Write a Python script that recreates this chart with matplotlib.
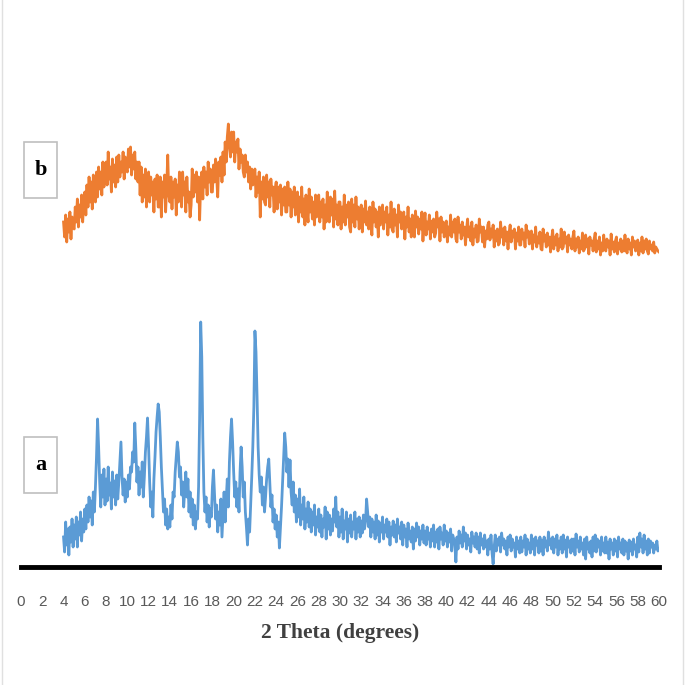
import matplotlib
matplotlib.use("Agg")
import matplotlib.pyplot as plt
from matplotlib.patches import Rectangle
from matplotlib.lines import Line2D
import numpy as np

# 2 theta grid, 4 to 60 degrees in 0.1 steps
two_theta = np.round(np.arange(4.0, 60.0001, 0.1), 1)

# sample a (blue), intensity, one row per degree
intensity_a = [
    30, 15, 45, 22, 38, 12, 40, 25, 48, 20,      # 4
    42, 28, 50, 20, 45, 32, 55, 26, 48, 35,      # 5
    58, 38, 62, 45, 70, 50, 66, 42, 75, 55,      # 6
    80, 110, 148, 120, 85, 60, 92, 70, 98, 62,   # 7
    88, 66, 100, 72, 84, 58, 95, 70, 86, 62,     # 8
    92, 68, 85, 105, 125, 90, 72, 88, 65, 85,    # 9
    70, 92, 78, 100, 95, 115, 105, 144, 118, 85, # 10
    100, 72, 95, 80, 105, 70, 90, 115, 130, 149, # 11
    120, 85, 60, 75, 50, 88, 110, 135, 150, 163, # 12
    155, 130, 100, 78, 55, 68, 42, 58, 38, 50,   # 13
    40, 62, 48, 75, 70, 95, 110, 125, 115, 90,   # 14
    100, 72, 85, 60, 78, 95, 70, 88, 55, 75,     # 15
    50, 68, 42, 62, 38, 55, 48, 80, 150, 245,    # 16
    210, 130, 75, 55, 70, 45, 62, 40, 58, 50,    # 17
    80, 97, 72, 48, 62, 35, 55, 42, 68, 30,      # 18
    52, 75, 45, 68, 88, 60, 105, 130, 148, 125,  # 19
    95, 70, 85, 60, 78, 55, 95, 120, 100, 70,    # 20
    85, 55, 40, 22, 48, 35, 62, 90, 120, 160,    # 21
    236, 215, 170, 120, 92, 75, 90, 62, 80, 55,  # 22
    70, 88, 100, 108, 85, 60, 72, 45, 58, 38,    # 23
    52, 30, 45, 19, 40, 60, 85, 110, 134, 120,   # 24
    95, 108, 80, 107, 75, 62, 85, 55, 72, 45,    # 25
    68, 50, 78, 42, 62, 48, 70, 38, 58, 45,      # 26
    65, 40, 58, 35, 55, 42, 62, 32, 50, 40,      # 27
    58, 35, 52, 30, 48, 40, 60, 28, 55, 38,      # 28
    52, 32, 48, 36, 58, 45, 70, 40, 55, 30,      # 29
    50, 35, 58, 28, 46, 38, 55, 25, 48, 34,      # 30
    52, 30, 45, 38, 55, 28, 48, 35, 50, 30,      # 31
    46, 34, 52, 38, 45, 68, 55, 40, 50, 30,      # 32
    48, 35, 45, 28, 52, 32, 46, 25, 44, 35,      # 33
    50, 28, 42, 35, 48, 30, 45, 22, 40, 32,      # 34
    46, 30, 42, 25, 48, 34, 40, 28, 45, 22,      # 35
    42, 30, 38, 20, 44, 28, 36, 25, 40, 18,      # 36
    38, 26, 44, 30, 40, 22, 36, 28, 42, 24,      # 37
    36, 22, 40, 28, 34, 20, 38, 26, 42, 20,      # 38
    35, 25, 38, 18, 40, 28, 34, 22, 42, 26,      # 39
    36, 20, 34, 25, 38, 16, 32, 28, 22, 5,       # 40
    30, 18, 36, 24, 32, 20, 40, 26, 34, 18,      # 41
    32, 22, 28, 15, 35, 24, 30, 20, 34, 18,      # 42
    30, 14, 34, 22, 28, 18, 32, 20, 26, 12,      # 43
    28, 18, 32, 14, 3, 20, 32, 16, 28, 22,       # 44
    30, 15, 34, 22, 28, 18, 26, 12, 30, 20,      # 45
    32, 16, 28, 20, 24, 10, 30, 18, 26, 14,      # 46
    30, 15, 26, 20, 32, 12, 28, 18, 24, 14,      # 47
    32, 18, 28, 12, 30, 22, 26, 14, 30, 16,      # 48
    27, 12, 30, 20, 26, 16, 35, 22, 28, 18,      # 49
    30, 14, 28, 20, 32, 12, 26, 18, 30, 14,      # 50
    32, 18, 27, 10, 30, 20, 26, 14, 28, 16,      # 51
    28, 12, 33, 20, 26, 15, 30, 18, 24, 12,      # 52
    28, 8, 30, 18, 24, 14, 26, 10, 30, 16,       # 53
    32, 15, 28, 20, 26, 12, 30, 16, 24, 14,      # 54
    30, 14, 25, 8, 28, 18, 24, 12, 28, 16,       # 55
    26, 10, 30, 18, 24, 14, 28, 12, 26, 16,      # 56
    24, 8, 27, 16, 25, 12, 28, 18, 22, 10,       # 57
    30, 15, 34, 20, 28, 14, 32, 18, 26, 12,      # 58
    28, 14, 26, 20, 24, 14, 22, 18, 26, 16,      # 59
    18,                                          # 60
]

# sample b (orange), intensity already includes its vertical offset
intensity_b = [
    345, 330, 352, 325, 348, 335, 355, 328, 350, 340,  # 4
    338, 360, 345, 368, 340, 362, 350, 372, 345, 365,  # 5
    375, 352, 382, 360, 390, 365, 385, 358, 392, 370,  # 6
    365, 395, 370, 400, 378, 395, 372, 405, 380, 398,  # 7
    405, 382, 415, 388, 400, 375, 408, 385, 402, 380,  # 8
    410, 385, 412, 390, 405, 395, 415, 388, 410, 398,  # 9
    395, 418, 400, 420, 392, 412, 398, 415, 388, 405,  # 10
    385, 405, 372, 400, 365, 392, 370, 398, 360, 390,  # 11
    395, 365, 390, 372, 385, 355, 388, 368, 392, 360,  # 12
    360, 390, 350, 385, 370, 392, 355, 380, 412, 372,  # 13
    365, 390, 358, 385, 370, 388, 352, 382, 365, 395,  # 14
    388, 360, 395, 372, 385, 355, 390, 365, 375, 350,  # 15
    362, 398, 370, 392, 375, 395, 365, 390, 347, 385,  # 16
    395, 368, 400, 380, 395, 372, 405, 385, 398, 375,  # 17
    375, 402, 385, 408, 390, 370, 405, 392, 410, 385,  # 18
    415, 392, 425, 405, 430, 443, 420, 410, 435, 415,  # 19
    435, 405, 425, 415, 428, 398, 418, 405, 412, 395,  # 20
    390, 412, 395, 405, 385, 400, 378, 398, 382, 392,  # 21
    398, 370, 390, 375, 395, 350, 385, 368, 390, 365,  # 22
    362, 392, 370, 385, 360, 388, 372, 380, 355, 378,  # 23
    385, 358, 380, 365, 382, 352, 378, 362, 380, 355,  # 24
    355, 385, 362, 378, 350, 375, 360, 380, 352, 372,  # 25
    375, 345, 370, 355, 380, 350, 368, 342, 372, 355,  # 26
    345, 378, 355, 370, 348, 365, 342, 372, 350, 368,  # 27
    372, 345, 365, 350, 368, 338, 362, 345, 375, 350,  # 28
    345, 370, 352, 368, 340, 376, 348, 362, 342, 365,  # 29
    365, 338, 360, 345, 372, 342, 362, 350, 365, 340,  # 30
    335, 368, 345, 362, 340, 370, 348, 360, 338, 355,  # 31
    362, 335, 358, 345, 366, 342, 355, 338, 360, 345,  # 32
    332, 365, 345, 358, 340, 355, 330, 360, 342, 352,  # 33
    362, 338, 355, 345, 360, 332, 352, 340, 365, 338,  # 34
    335, 358, 342, 352, 330, 362, 345, 355, 338, 350,  # 35
    355, 328, 350, 340, 360, 335, 348, 330, 352, 338,  # 36
    330, 356, 340, 350, 333, 348, 338, 355, 326, 345,  # 37
    354, 332, 345, 338, 352, 328, 346, 335, 348, 330,  # 38
    334, 355, 340, 348, 326, 350, 335, 345, 330, 342,  # 39
    346, 325, 340, 332, 352, 330, 345, 335, 348, 328,  # 40
    325, 350, 335, 342, 328, 345, 332, 340, 322, 338,  # 41
    348, 330, 340, 326, 345, 322, 338, 330, 342, 325,  # 42
    326, 348, 335, 340, 325, 340, 320, 336, 328, 342,  # 43
    345, 327, 338, 330, 342, 320, 336, 326, 338, 322,  # 44
    324, 345, 330, 338, 322, 340, 326, 335, 318, 334,  # 45
    342, 325, 336, 330, 338, 318, 334, 326, 340, 322,  # 46
    322, 338, 328, 334, 320, 342, 330, 336, 323, 332,  # 47
    336, 318, 332, 325, 340, 320, 330, 324, 335, 318,  # 48
    317, 338, 326, 332, 320, 334, 322, 330, 315, 328,  # 49
    337, 318, 330, 322, 333, 316, 328, 320, 338, 318,  # 50
    320, 335, 324, 330, 315, 332, 322, 328, 318, 330,  # 51
    336, 316, 328, 320, 330, 314, 326, 318, 334, 316,  # 52
    318, 332, 320, 328, 313, 330, 322, 326, 316, 328,  # 53
    334, 315, 326, 318, 330, 312, 324, 316, 332, 318,  # 54
    316, 328, 320, 326, 312, 333, 318, 325, 315, 326,  # 55
    330, 313, 324, 318, 328, 315, 326, 316, 332, 318,  # 56
    314, 328, 318, 324, 312, 330, 320, 326, 316, 322,  # 57
    327, 312, 324, 316, 330, 314, 326, 318, 328, 316,  # 58
    313, 326, 318, 322, 316, 325, 314, 320, 318, 316,  # 59
    315,                                               # 60
]

x_ticks = list(range(0, 61, 2))

fig = plt.figure(figsize=(6.85, 6.85), dpi=100)
ax = fig.add_axes([21 / 685, 118 / 685, 638 / 685, 467 / 685])

ax.plot(two_theta, intensity_a, color="#5b9bd5", lw=2.0)
ax.plot(two_theta, intensity_b, color="#ed7d31", lw=2.0)

ax.set_xlim(0, 60)
ax.set_ylim(0, 467)
ax.set_xticks(x_ticks)
ax.set_xticklabels([str(t) for t in x_ticks], family="Liberation Sans",
                   fontsize=11, color="#595959")
ax.set_yticks([])
ax.tick_params(axis="x", length=0, pad=20)
for s in ["top", "left", "right"]:
    ax.spines[s].set_visible(False)
ax.spines["bottom"].set_linewidth(3.5)
ax.spines["bottom"].set_color("black")
ax.set_xlabel("2 Theta (degrees)", family="Liberation Serif", fontweight="bold",
              fontsize=15.5, color="#404040", labelpad=10)

# sample labels in boxes
for label, y0 in [("b", 369), ("a", 74)]:
    ax.add_patch(Rectangle((0.3, y0), 3.1, 56, fill=True, facecolor="white",
                           edgecolor="#bfbfbf", lw=1.2, clip_on=False))
    ax.text(1.85, y0 + 28, label, ha="center", va="center", family="Liberation Serif",
            fontweight="bold", fontsize=16, color="black")

# faint frame edges of the original image
fig.add_artist(Line2D([2 / 685, 2 / 685], [0, 1], color="#e0e0e0", lw=1))
fig.add_artist(Line2D([683 / 685, 683 / 685], [0, 1], color="#e0e0e0", lw=1))

fig.savefig("out.png", dpi=100)
